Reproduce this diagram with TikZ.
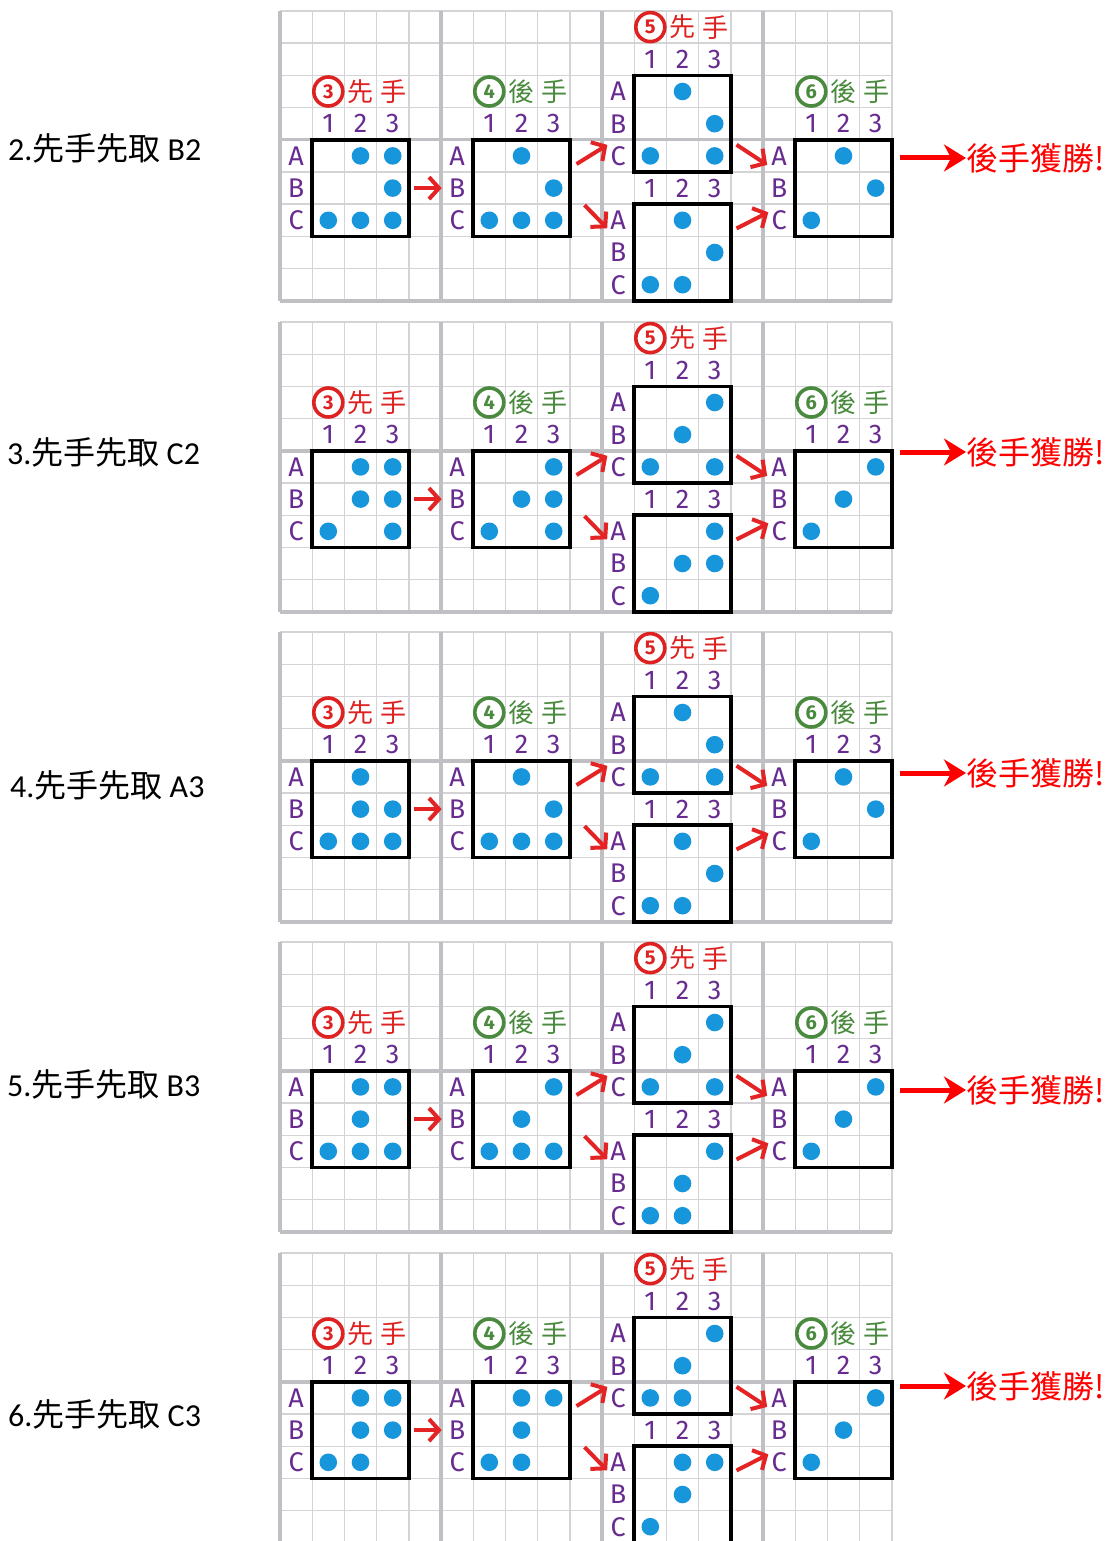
\documentclass[tikz,border=0pt]{standalone}
\usepackage{fontspec}
\setmainfont{Carlito}
\newfontfamily\cjk{Noto Sans CJK TC}
\newfontfamily\hand{Fira Sans}
\usetikzlibrary{arrows.meta, positioning}

\definecolor{paperline}{RGB}{212,212,214}
\definecolor{paperbold}{RGB}{192,192,196}
\definecolor{pieceblue}{RGB}{24,150,220}
\definecolor{labpurple}{RGB}{104,44,144}
\definecolor{firstred}{RGB}{222,34,34}
\definecolor{secondgreen}{RGB}{74,138,62}
\definecolor{movered}{RGB}{228,36,36}

\newcommand{\gx}{280}
\newcommand{\cs}{32.2}

\tikzset{
  minorline/.style={draw=paperline, line width=1.4pt},
  majorline/.style={draw=paperbold, line width=3.4pt},
  boardbox/.style={rectangle, draw=black, line width=3.5pt, minimum size=96.6pt, inner sep=0pt},
  rclabel/.style={inner sep=0pt, text=labpurple, font=\hand\fontsize{27}{27}\selectfont},
  piece/.style={fill=pieceblue},
  numcircle/.style={circle, line width=3.6pt, minimum size=29pt, inner sep=0pt,
                    font=\hand\bfseries\fontsize{20}{20}\selectfont},
  titlech/.style={inner sep=0pt, font=\cjk\fontsize{26}{26}\selectfont},
  movearrow/.style={-{Straight Barb[length=10pt, width=22pt]}, draw=movered, line width=4pt},
  winarrow/.style={-{Stealth[length=22pt, width=27pt, inset=7pt]}, draw=red, fill=red, line width=5pt},
  wintext/.style={inner sep=0pt, text=red, font=\cjk\fontsize{32}{32}\selectfont},
  caselabel/.style={inner sep=0pt, font=\fontsize{32}{32}\selectfont}
}

% squared paper of one panel, #1 = top
\newcommand{\paper}[1]{%
  \foreach \i in {0,...,19}
    \draw[minorline] ({\gx+\i*\cs},#1) -- ({\gx+\i*\cs},#1+290);
  \foreach \j in {0,...,9}
    \draw[minorline] (\gx,{#1+\j*\cs}) -- ({\gx+19*\cs},{#1+\j*\cs});
  \foreach \i in {0,5,10,15}
    \draw[majorline] ({\gx+\i*\cs},#1) -- ({\gx+\i*\cs},#1+290);
  \foreach \j in {4,9}
    \draw[majorline] (\gx,{#1+\j*\cs}) -- ({\gx+19*\cs},{#1+\j*\cs});
}

% board: name, first col, first row, panel top, pieces (row*10+col)
\newcommand{\board}[5]{%
  \node (#1) [boardbox] at ({\gx+(#2+1.5)*\cs},{#4+(#3+1.5)*\cs}) {};
  \foreach \l [count=\i from 0] in {A,B,C}
    \node (#1\l) [rclabel] at ({\gx+(#2-0.5)*\cs},{#4+(#3+\i+0.5)*\cs}) {\l};
  \foreach \n in {1,2,3}
    \node (#1n\n) [rclabel] at ({\gx+(#2+\n-0.5)*\cs},{#4+(#3-0.5)*\cs}) {\n};
  \foreach \dt in {#5} {
    \pgfmathtruncatemacro\prow{\dt/10}
    \pgfmathtruncatemacro\pcol{mod(\dt,10)}
    \fill[piece] ({\gx+(#2+\pcol-0.5)*\cs},{#4+(#3+\prow-0.5)*\cs}) circle (8.8pt);
  }
}

% move title: name, col, row, panel top, number, colour, player
\newcommand{\movetitle}[7]{%
  \node (#1) [numcircle, draw=#6, text=#6] at ({\gx+(#2+0.5)*\cs},{#4+(#3+0.5)*\cs}) {#5};
  \node (#1a) [titlech, text=#6, right=3pt of #1] {#7};
  \node (#1b) [titlech, text=#6, right=6pt of #1a] {手};
}

% one whole panel: id, top, then pieces of boards 3, 4, 5 upper, 5 lower, 6
\newcommand{\panel}[7]{%
  \paper{#2}
  \board{p#1b3}{1}{4}{#2}{#3}
  \board{p#1b4}{6}{4}{#2}{#4}
  \board{p#1bu}{11}{2}{#2}{#5}
  \board{p#1bl}{11}{6}{#2}{#6}
  \board{p#1b6}{16}{4}{#2}{#7}
  \movetitle{p#1t3}{1}{2}{#2}{3}{firstred}{先}
  \movetitle{p#1t4}{6}{2}{#2}{4}{secondgreen}{後}
  \movetitle{p#1t5}{11}{0}{#2}{5}{firstred}{先}
  \movetitle{p#1t6}{16}{2}{#2}{6}{secondgreen}{後}
  % moves
  \draw[movearrow] ([xshift=3pt]p#1b3.east) -- ([xshift=-7pt]p#1b4B.west);
  \draw[movearrow] ([shift={(5,26)}]p#1b4.north east) -- ([shift={(-3,-11)}]p#1buC.west);
  \draw[movearrow] ([shift={(13,17)}]p#1b4.east) -- ([shift={(-3,8)}]p#1blA.west);
  \draw[movearrow] ([shift={(4,-29)}]p#1bu.south east) -- ([shift={(-4,9)}]p#1b6A.west);
  \draw[movearrow] ([shift={(4,26)}]p#1bl.north east) -- ([shift={(-3,-8)}]p#1b6C.west);
}

\begin{document}
\begin{tikzpicture}[x=1pt, y=-1pt]
\useasboundingbox (0,0) rectangle (1108,1541);
\fill[white] (0,0) rectangle (1108,1541);

\panel{1}{11}{12,13,23,31,32,33}{12,23,31,32,33}{12,23,31,33}{12,23,31,32}{12,23,31}
\panel{2}{322}{12,13,22,23,31,33}{13,22,23,31,33}{13,22,31,33}{13,22,23,31}{13,22,31}
\panel{3}{632}{12,22,23,31,32,33}{12,23,31,32,33}{12,23,31,33}{12,23,31,32}{12,23,31}
\panel{4}{942}{12,13,22,31,32,33}{13,22,31,32,33}{13,22,31,33}{13,22,31,32}{13,22,31}
\panel{5}{1253}{12,13,22,23,31,32}{12,13,22,31,32}{13,22,31,32}{12,13,22,31}{13,22,31}

% cases
\node (case2) [caselabel, anchor=west] at (8,148) {2.{\cjk 先手先取} B2};
\node (case3) [caselabel, anchor=west] at (7,452) {3.{\cjk 先手先取} C2};
\node (case4) [caselabel, anchor=west] at (10,785) {4.{\cjk 先手先取} A3};
\node (case5) [caselabel, anchor=west] at (7,1084) {5.{\cjk 先手先取} B3};
\node (case6) [caselabel, anchor=west] at (8,1414) {6.{\cjk 先手先取} C3};

% results
\foreach \k/\wy in {1/158, 2/452, 3/773, 4/1090, 5/1386} {
  \coordinate (s\k) at (900,\wy);
  \node (w\k) [wintext, anchor=west] at (966,\wy) {後手獲勝!};
  \draw[winarrow] (s\k) -- (w\k.west);
}
\end{tikzpicture}
\end{document}
